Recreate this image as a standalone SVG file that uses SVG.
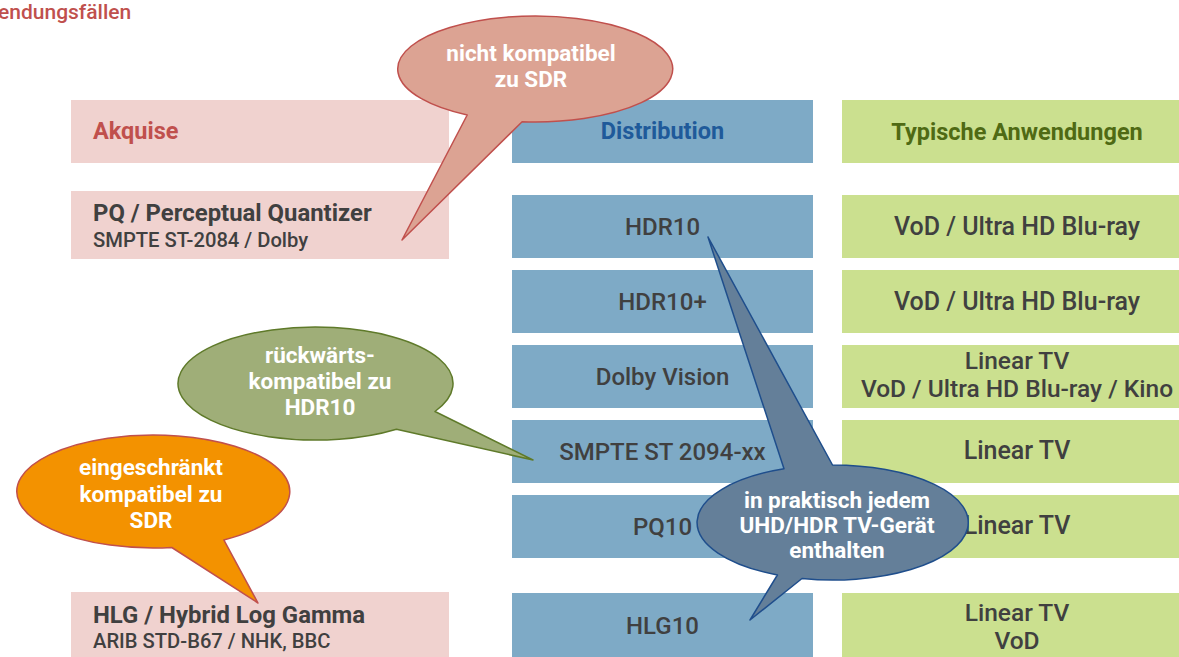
<svg xmlns="http://www.w3.org/2000/svg" width="1179" height="657" viewBox="0 0 1179 657">
<style>
text{font-family:Roboto,"Liberation Sans",sans-serif;}
.acq{fill:#f0d2cf;}
.dist{fill:#7eaac6;}
.app{fill:#cbe08f;}
.t{fill:#404040;font-weight:500;font-size:24px;text-anchor:middle;}
.ta{fill:#404040;font-weight:500;font-size:25px;text-anchor:middle;}
.ta2{fill:#404040;font-weight:500;font-size:24.5px;text-anchor:middle;}
.tl{fill:#404040;font-weight:700;font-size:23.9px;}
.ts{fill:#404040;font-weight:500;font-size:20.2px;}
.h{font-weight:700;font-size:23.5px;}
.ct{fill:#ffffff;font-weight:700;font-size:22.5px;text-anchor:middle;}
</style>
<text x="-2" y="19" fill="#c0504d" style="font-weight:500;font-size:21px">endungsfällen</text>

<g id="header-akquise"><rect class="acq" x="71" y="100" width="378" height="63"/><text class="h" x="93" y="139" fill="#c0504d">Akquise</text></g>
<g id="header-distribution"><rect class="dist" x="512" y="100" width="301" height="63"/><text class="h" x="662.5" y="139" fill="#1f5a9a" text-anchor="middle">Distribution</text></g>
<g id="header-anwendungen"><rect class="app" x="842" y="100" width="340" height="63"/><text class="h" x="1017" y="140" fill="#4f6a14" text-anchor="middle">Typische Anwendungen</text></g>

<g id="acq-pq"><rect class="acq" x="71" y="191" width="378" height="68"/><text class="tl" x="93" y="221">PQ / Perceptual Quantizer</text><text class="ts" x="93" y="247">SMPTE ST-2084 / Dolby</text></g>
<g id="acq-hlg"><rect class="acq" x="71" y="592" width="378" height="70"/><text class="tl" x="93" y="623">HLG / Hybrid Log Gamma</text><text class="ts" x="93" y="648">ARIB STD-B67 / NHK, BBC</text></g>

<g id="dist-hdr10"><rect class="dist" x="512" y="195" width="301" height="63"/><text class="t" x="662.5" y="235">HDR10</text></g>
<g id="dist-hdr10plus"><rect class="dist" x="512" y="270" width="301" height="63"/><text class="t" x="662.5" y="310">HDR10+</text></g>
<g id="dist-dolby"><rect class="dist" x="512" y="345" width="301" height="63"/><text class="t" x="662.5" y="385">Dolby Vision</text></g>
<g id="dist-smpte"><rect class="dist" x="512" y="420" width="301" height="63"/><text class="t" x="662.5" y="460">SMPTE ST 2094-xx</text></g>
<g id="dist-pq10"><rect class="dist" x="512" y="495" width="301" height="63"/><text class="t" x="662.5" y="535">PQ10</text></g>
<g id="dist-hlg10"><rect class="dist" x="512" y="593" width="301" height="70"/><text class="t" x="662.5" y="634">HLG10</text></g>

<g id="app-1"><rect class="app" x="842" y="195" width="340" height="63"/><text class="ta" x="1017" y="235">VoD / Ultra HD Blu-ray</text></g>
<g id="app-2"><rect class="app" x="842" y="270" width="340" height="63"/><text class="ta" x="1017" y="310">VoD / Ultra HD Blu-ray</text></g>
<g id="app-3"><rect class="app" x="842" y="345" width="340" height="63"/><text class="ta2" x="1017" y="369">Linear TV</text><text class="ta2" x="1017" y="397">VoD / Ultra HD Blu-ray / Kino</text></g>
<g id="app-4"><rect class="app" x="842" y="420" width="340" height="63"/><text class="ta" x="1017" y="459">Linear TV</text></g>
<g id="app-5"><rect class="app" x="842" y="495" width="340" height="63"/><text class="ta" x="1017" y="534">Linear TV</text></g>
<g id="app-6"><rect class="app" x="842" y="593" width="340" height="70"/><text class="ta2" x="1017" y="621">Linear TV</text><text class="ta2" x="1017" y="649">VoD</text></g>

<g id="connectors"></g>

<g id="callout-sdr">
<path d="M467.2 115 L402 240 L522.1 121.7 A137.5 53 0 1 0 467.2 115 Z" fill="#dca393" stroke="#c0504d" stroke-width="1.5" stroke-linejoin="round"/>
<text class="ct" x="531" y="61">nicht kompatibel</text><text class="ct" x="531" y="87">zu SDR</text>
</g>
<g id="callout-hdr10">
<path d="M435 411.5 L533 460 L396.5 429.2 A137.5 56.5 0 1 1 435 411.5 Z" fill="#9fae78" stroke="#5f7a2a" stroke-width="1.5" stroke-linejoin="round"/>
<text class="ct" x="320" y="363">rückwärts-</text><text class="ct" x="320" y="389">kompatibel zu</text><text class="ct" x="320" y="415">HDR10</text>
</g>
<g id="callout-hlg">
<path d="M223.8 539.9 L258 603 L171.8 547.5 A136.5 56.5 0 1 1 223.8 539.9 Z" fill="#f39200" stroke="#c0504d" stroke-width="1.5" stroke-linejoin="round"/>
<text class="ct" x="151" y="475">eingeschränkt</text><text class="ct" x="151" y="502">kompatibel zu</text><text class="ct" x="151" y="528">SDR</text>
</g>
<g id="callout-tv">
<path d="M784 468.8 L708 237 L832.5 465 A135.5 57.5 0 1 1 802 578.5 L750 620 L777.4 575 A135.5 57.5 0 0 1 784 468.8 Z" fill="#647f99" stroke="#1f4e8c" stroke-width="1.5" stroke-linejoin="round"/>
<text class="ct" x="837" y="508">in praktisch jedem</text><text class="ct" x="837" y="533">UHD/HDR TV-Gerät</text><text class="ct" x="837" y="558">enthalten</text>
</g>
</svg>
